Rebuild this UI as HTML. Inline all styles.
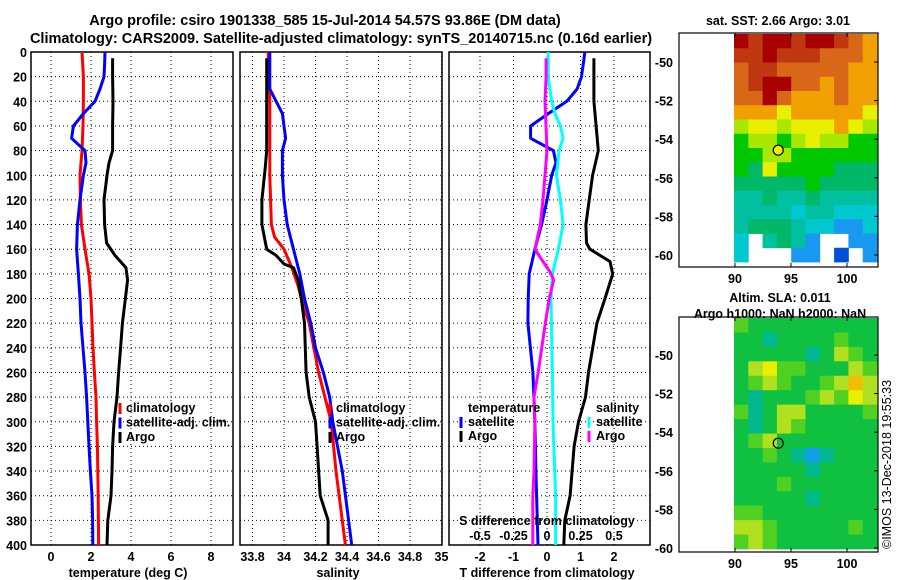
<!DOCTYPE html>
<html><head><meta charset="utf-8">
<style>
html,body{margin:0;padding:0;background:#fff;}
svg{display:block;font-family:"Liberation Sans",sans-serif;font-weight:bold;}
text{fill:#000;}
</style></head>
<body>
<svg id="chart" width="900" height="580" viewBox="0 0 900 580" xmlns="http://www.w3.org/2000/svg">
<text x="325" y="25" font-size="14.5" text-anchor="middle">Argo profile: csiro 1901338_585 15-Jul-2014 54.57S 93.86E (DM data)</text>
<text x="341" y="43" font-size="14.5" text-anchor="middle">Climatology: CARS2009. Satellite-adjusted climatology: synTS_20140715.nc (0.16d earlier)</text>
<g id="plots"></g>
<text x="778" y="25" font-size="12.5" text-anchor="middle">sat. SST: 2.66 Argo: 3.01</text>
<text x="780" y="302" font-size="12.5" text-anchor="middle">Altim. SLA: 0.011</text>
<text x="780" y="318" font-size="12.5" text-anchor="middle">Argo h1000: NaN h2000: NaN</text>
<text x="0" y="0" font-size="12.5" font-weight="normal" transform="translate(891,549) rotate(-90)">©IMOS 13-Dec-2018 19:55:33</text>
</svg>
<script>
// ---- data ----
const depthTicks = [0,20,40,60,80,100,120,140,160,180,200,220,240,260,280,300,320,340,360,380,400];
const tTicks = [0,2,4,6,8];
const sTicks = [33.8,34,34.2,34.4,34.6,34.8,35];
const sTickLabels = ["33.8","34","34.2","34.4","34.6","34.8","35"];
const dTTicks = [-2,-1,0,1,2];
const dSTicks = [-0.5,-0.25,0,0.25,0.5];
const dSTickLabels = ["-0.5","-0.25","0","0.25","0.5"];

const climDepth = [0,20,40,60,80,100,120,140,160,180,200,220,240,260,280,300,320,340,360,380,400];
const climTemp = [1.55,1.62,1.62,1.6,1.55,1.45,1.47,1.52,1.7,1.9,2.0,2.05,2.1,2.17,2.25,2.28,2.32,2.34,2.36,2.37,2.38];
const satDepth = [0,10,20,30,40,50,60,70,80,90,100,120,140,160,180,200,220,240,260,280,300,320,340,360,380,400];
const satTemp = [2.7,2.68,2.65,2.45,2.2,1.62,1.12,1.03,1.7,1.75,1.62,1.45,1.32,1.28,1.37,1.45,1.5,1.6,1.7,1.78,1.84,1.9,1.97,2.05,2.08,2.09];
const argoDepth = [5,20,40,60,80,90,100,120,140,155,165,175,185,200,220,240,260,280,300,320,340,360,380,400];
const argoTemp = [3.08,3.08,3.1,3.08,3.08,2.9,2.8,2.65,2.68,2.78,3.2,3.75,3.83,3.72,3.57,3.48,3.38,3.3,3.15,3.08,3.05,3.0,2.84,2.8];

const climSalDepth = [0,40,100,140,150,160,175,190,200,220,260,300,340,400];
const climSal = [33.90,33.91,33.91,33.92,33.94,34.0,34.05,34.09,34.11,34.16,34.22,34.30,34.33,34.39];
const satSalDepth = [0,30,40,50,70,80,100,120,140,160,180,200,220,240,260,280,300,340,380,400];
const satSal = [33.91,33.91,33.95,33.99,34.01,33.99,33.99,34.0,34.02,34.06,34.1,34.13,34.17,34.2,34.25,34.29,34.31,34.37,34.41,34.43];
const argoSalDepth = [5,80,95,120,140,160,165,172,175,185,200,220,260,280,300,320,360,380,400];
const argoSal = [33.89,33.89,33.88,33.86,33.86,33.89,33.95,34.0,34.06,34.09,34.11,34.13,34.14,34.16,34.2,34.21,34.23,34.28,34.28];

const dTSatDepth = [0,20,30,40,50,60,70,80,90,100,120,140,160,180,200,220,260,300,340,400];
const dTSat = [1.13,1.03,0.9,0.59,0.04,-0.49,-0.49,0.19,0.27,0.14,0,-0.16,-0.36,-0.53,-0.56,-0.57,-0.42,-0.36,-0.33,-0.27];
const dTArgoDepth = [5,40,80,100,120,140,155,160,170,180,200,220,260,280,300,320,340,360,380,400];
const dTArgo = [1.4,1.4,1.53,1.36,1.26,1.16,1.18,1.28,1.88,1.96,1.73,1.49,1.24,1.15,0.94,0.81,0.75,0.69,0.53,0.5];
const dSSatDepth = [0,20,40,50,60,70,80,100,120,140,160,180,200,220,260,300,360,400];
const dSSat = [0.01,0.008,0.035,0.06,0.1,0.12,0.09,0.07,0.1,0.12,0.085,0.04,0.03,0.033,0.04,0.045,0.064,0.064];
const dSArgoDepth = [5,20,40,80,100,120,140,155,160,170,178,185,200,220,260,280,300,340,360,400];
const dSArgo = [-0.007,-0.007,-0.015,0,-0.015,-0.03,-0.05,-0.08,-0.09,-0.03,0.02,0.05,0.017,-0.013,-0.066,-0.097,-0.09,-0.097,-0.106,-0.106];

// maps: colour-class indices (-1 = no data)
const sstGrid = [
[0,1,0,0,1,0,0,1,2,3],[1,1,0,1,1,1,2,2,2,3],[2,1,1,2,2,2,2,2,3,3],[2,1,0,0,2,2,3,2,3,3],
[2,2,0,2,3,3,3,2,3,3],[3,3,3,4,3,3,3,3,3,4],[5,4,4,5,4,4,4,3,4,5],[6,5,5,6,5,4,5,5,6,6],
[6,6,5,5,6,6,6,6,6,6],[6,7,4,6,6,6,6,7,7,7],[7,7,7,7,7,6,7,7,7,7],[8,8,7,8,8,7,8,8,8,8],
[8,8,8,8,9,8,8,9,9,9],[8,7,7,7,8,9,9,10,10,9],[9,-1,8,7,8,10,-1,-1,10,10],[9,-1,-1,-1,10,10,-1,11,-1,10]];
const slaGrid = [
[2,1,1,1,1,1,1,1,1,1],[1,1,0,1,1,1,1,2,1,1],[1,1,1,1,1,0,1,3,2,1],[1,3,4,2,2,1,1,1,3,2],
[1,2,3,2,1,1,2,3,5,3],[1,0,1,1,1,2,3,2,4,3],[2,0,1,3,3,1,1,1,1,2],[1,0,1,3,2,1,1,1,1,1],
[1,2,3,1,1,1,1,1,1,1],[1,1,2,1,0,6,0,1,1,1],[1,1,1,1,1,0,1,1,1,1],[1,1,1,2,1,1,1,1,1,1],
[1,1,1,1,1,0,1,1,1,1],[2,2,1,1,1,1,1,1,1,1],[3,3,2,1,1,1,1,1,2,1],[2,3,2,1,1,1,1,1,1,1]];
const sstColors = ["#a80000","#c03810","#d86818","#f0a000","#e8f000","#a8e800","#00c800","#00b868","#00c0a0","#00c8d0","#1898f0","#0050d8"];
const slaColors = ["#00b890","#10c040","#50d020","#b0e020","#e8f000","#f0c000","#10a0e8"];
const mapLatTicks = [-50,-52,-54,-56,-58,-60];
const mapLonTicks = [90,95,100];
const argoLon = 93.86, argoLat = -54.57;

// ---- drawing ----
const NS = "http://www.w3.org/2000/svg";
const root = document.getElementById('plots');
function mk(tag, attrs, parent){ const e=document.createElementNS(NS,tag); for(const k in attrs) e.setAttribute(k,attrs[k]); (parent||root).appendChild(e); return e; }
const Y0=52, Y1=545;
const yD = d => Y0 + (d/400)*(Y1-Y0);

function panel(name, x0, x1, gridXs){
  const g = mk('g',{});
  
  
  gridXs.forEach(x=>{ const l=mk('line',{x1:x,x2:x,y1:Y0,y2:Y1,stroke:'#000','stroke-width':1,'stroke-dasharray':'1,3'},g);
      });
  depthTicks.forEach(d=>{ const l=mk('line',{x1:x0,x2:x1,y1:yD(d),y2:yD(d),stroke:'#000','stroke-width':1,'stroke-dasharray':'1,3'},g);
      });
  const r=mk('rect',{x:x0,y:Y0,width:x1-x0,height:Y1-Y0,fill:'none',stroke:'#000','stroke-width':1.5},g);
   
  return g;
}
function series(g, name, xs, ds, fx, color){
  const pts = xs.map((v,i)=>fx(v).toFixed(1)+','+yD(ds[i]).toFixed(1)).join(' ');
  const p = mk('polyline',{points:pts,fill:'none',stroke:color,'stroke-width':3,'stroke-linejoin':'round'},g);
  
  
}
function txt(s, x, y, size, anchor, name, parent){
  const t = mk('text',{x:x,y:y,'font-size':size,'text-anchor':anchor||'start'},parent);
  t.textContent = s;
  
  
  return t;
}
function legendMark(g, x, y, color){
  const r = mk('rect',{x:x-1.5,y:y-10,width:3,height:11,fill:color},g);
  
  
}

depthTicks.forEach(d=> txt(String(d), 27, yD(d)+5, 12.5, 'end', 'y-tick-label'));

// Panel 1
const xT = t => 51 + t*20;
const p1 = panel('temperature-panel', 31, 233, tTicks.map(xT));
series(p1,'climatology-temperature-line',climTemp,climDepth,xT,'#ff0000');
series(p1,'satellite-temperature-line',satTemp,satDepth,xT,'#0000ff');
series(p1,'argo-temperature-line',argoTemp,argoDepth,xT,'#000000');
tTicks.forEach(t=> txt(String(t), xT(t), 561, 12.5, 'middle', 'x-tick-label', p1));
txt('temperature (deg C)',128,577,12.5,'middle','temperature-axis-title',p1);
[['climatology','#ff0000'],['satellite-adj. clim.','#0000ff'],['Argo','#000000']].forEach((e,i)=>{
  legendMark(p1,120,413+i*14.5,e[1]); txt(e[0],126,412+i*14.5,12.5,'start','legend-entry',p1); });

// Panel 2
const xS = s => 284 + (s-34)*157.5;
const p2 = panel('salinity-panel', 240, 442, sTicks.map(xS));
series(p2,'climatology-salinity-line',climSal,climSalDepth,xS,'#ff0000');
series(p2,'satellite-salinity-line',satSal,satSalDepth,xS,'#0000ff');
series(p2,'argo-salinity-line',argoSal,argoSalDepth,xS,'#000000');
sTicks.forEach((s,i)=> txt(sTickLabels[i], xS(s), 561, 12.5, 'middle', 'x-tick-label', p2));
txt('salinity',338,577,12.5,'middle','salinity-axis-title',p2);
[['climatology','#ff0000'],['satellite-adj. clim.','#0000ff'],['Argo','#000000']].forEach((e,i)=>{
  legendMark(p2,330,413+i*14.5,e[1]); txt(e[0],336,412+i*14.5,12.5,'start','legend-entry',p2); });

// Panel 3
const xdT = t => 547 + t*33.5;
const xdS = s => 547 + s*134;
const p3 = panel('difference-panel', 449, 650, dTTicks.map(xdT));
series(p3,'satellite-t-diff-line',dTSat,dTSatDepth,xdT,'#0000ff');
series(p3,'argo-t-diff-line',dTArgo,dTArgoDepth,xdT,'#000000');
series(p3,'satellite-s-diff-line',dSSat,dSSatDepth,xdS,'#00ffff');
series(p3,'argo-s-diff-line',dSArgo,dSArgoDepth,xdS,'#ff00ff');
dTTicks.forEach(t=> txt(String(t), xdT(t), 561, 12.5, 'middle', 'x-tick-label', p3));
txt('T difference from climatology',547,577,12.5,'middle','t-diff-axis-title',p3);
txt('S difference from climatology',547,525,12.5,'middle','s-diff-axis-title',p3);
dSTicks.forEach((s,i)=> txt(dSTickLabels[i], xdS(s), 540, 12.5, 'middle', 's-diff-tick-label', p3));
txt('temperature',468,412,12.5,'start','legend-header-temperature',p3);
txt('salinity',596,412,12.5,'start','legend-header-salinity',p3);
legendMark(p3,461,427,'#0000ff'); txt('satellite',468,426,12.5,'start','legend-entry',p3);
legendMark(p3,461,441,'#000000'); txt('Argo',468,440,12.5,'start','legend-entry',p3);
legendMark(p3,589,427,'#00ffff'); txt('satellite',596,426,12.5,'start','legend-entry',p3);
legendMark(p3,589,441,'#ff00ff'); txt('Argo',596,440,12.5,'start','legend-entry',p3);

// Maps
const lonX = lon => 735 + (lon-90)*11.2;
function drawMap(name, grid, colors, top, bottom, latRef, latScale, circleFill){
  const g = mk('g',{});
  
  
  const latY = lat => latRef + (-50-lat)*latScale;
  const rows = grid.length, cols = grid[0].length;
  const cx0 = 734, cx1 = 877, cy0 = top+1, cy1 = bottom - (name==='sst-map'?5:3);
  const cw = (cx1-cx0)/cols, ch = (cy1-cy0)/rows;
  grid.forEach((row,r)=>row.forEach((v,c)=>{
    if(v<0) return;
    const cell = mk('rect',{x:(cx0+c*cw).toFixed(2),y:(cy0+r*ch).toFixed(2),width:(cw+0.4).toFixed(2),height:(ch+0.4).toFixed(2),fill:colors[v]},g);
    
    
  }));
  const fr = mk('rect',{x:679,y:top,width:199,height:bottom-top,fill:'none',stroke:'#000','stroke-width':1.2},g);
   
  mapLatTicks.forEach(l=>{
    const y=latY(l);
    mk('line',{x1:874,x2:878,y1:y,y2:y,stroke:'#000','stroke-width':1},g);
    txt(String(l),673,y+5,12.5,'end','map-lat-label',g);
  });
  mapLonTicks.forEach(l=>{
    const x=lonX(l);
    mk('line',{x1:x,x2:x,y1:top,y2:top+4,stroke:'#000','stroke-width':1},g);
    mk('line',{x1:x,x2:x,y1:bottom-4,y2:bottom,stroke:'#000','stroke-width':1},g);
    txt(String(l),x,bottom+16,12.5,'middle','map-lon-label',g);
  });
  const c = mk('circle',{cx:lonX(argoLon),cy:latY(argoLat),r:5,fill:circleFill,stroke:'#000','stroke-width':1.2},g);
  
  
}
drawMap('sst-map', sstGrid, sstColors, 33, 267, 62, 19.3, '#e8f000');
drawMap('sla-map', slaGrid, slaColors, 317, 552, 355, 19.3, 'none');
</script>
</body></html>
